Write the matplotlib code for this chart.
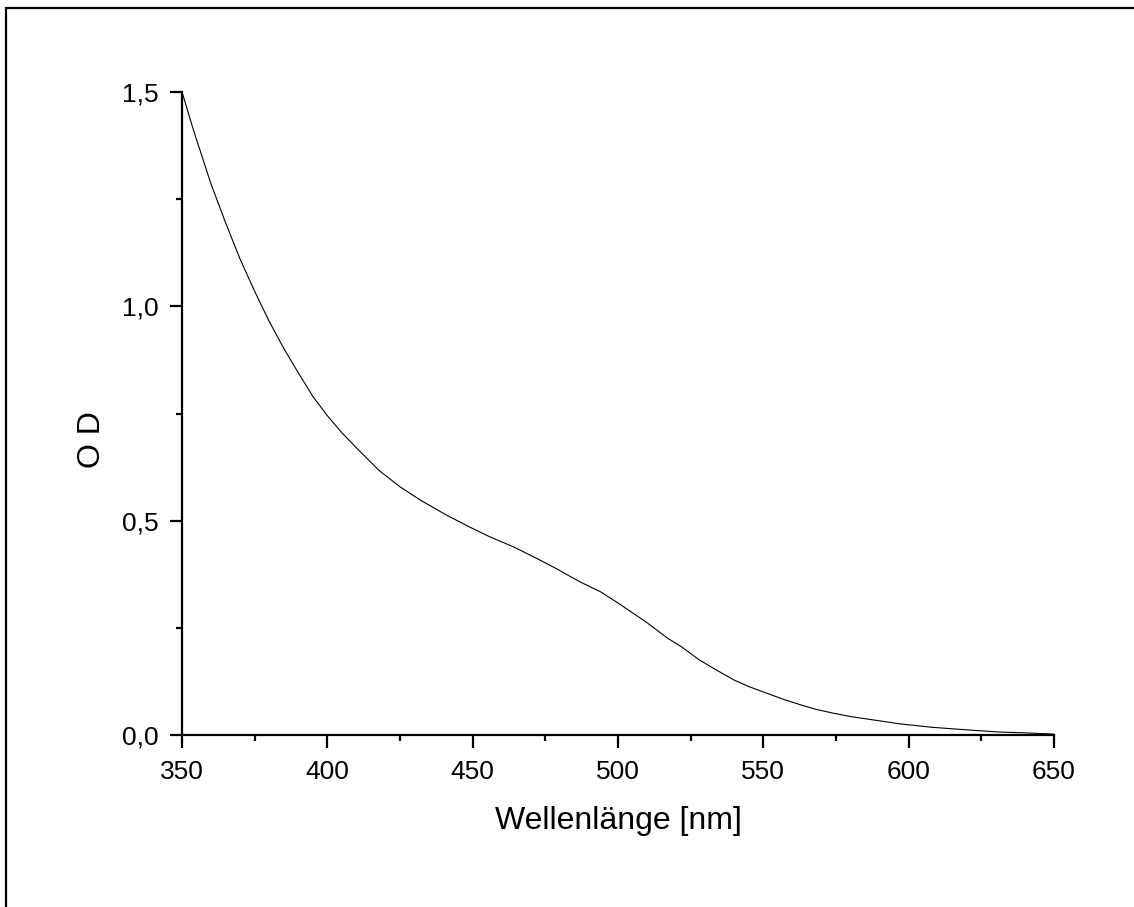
import matplotlib.pyplot as plt
from matplotlib.patches import Rectangle
from matplotlib.ticker import MultipleLocator, FuncFormatter

plt.rcParams["font.family"] = ["Liberation Sans", "DejaVu Sans"]

# absorption spectrum
wavelength = [350, 354, 360, 365, 370, 375, 380, 385, 390, 395, 400, 405, 410,
              418, 425, 432, 441, 449, 456, 464, 472, 478, 487, 494, 500, 505,
              510, 517, 522, 528, 534, 540, 545, 551, 557, 563, 568, 574, 580,
              586, 597, 608, 620, 631, 640, 650]
od = [1.50, 1.41, 1.285, 1.195, 1.11, 1.035, 0.965, 0.902, 0.845, 0.790, 0.745,
      0.705, 0.670, 0.616, 0.579, 0.548, 0.513, 0.485, 0.462, 0.439, 0.412,
      0.391, 0.357, 0.334, 0.308, 0.285, 0.262, 0.226, 0.205, 0.175, 0.151,
      0.128, 0.113, 0.098, 0.083, 0.070, 0.060, 0.051, 0.043, 0.037, 0.026,
      0.018, 0.012, 0.007, 0.005, 0.002]

W, H = 1134, 907
fig = plt.figure(figsize=(W / 100, H / 100), dpi=100)

# frame around the page (cut off at right and bottom)
fig.patches.append(Rectangle((6 / W, -0.1), 1.2, 1 - 8 / H + 0.1,
                             transform=fig.transFigure, fill=False,
                             edgecolor="black", linewidth=1.6))

ax = fig.add_axes([182 / W, 1 - 735 / H, (1054 - 182) / W, (735 - 92) / H])
ax.plot(wavelength, od, color="black", linewidth=0.8)

ax.set_xlim(350, 650)
ax.set_ylim(0, 1.5)
ax.spines["top"].set_visible(False)
ax.spines["right"].set_visible(False)
for s in ("left", "bottom"):
    ax.spines[s].set_linewidth(1.6)

ax.xaxis.set_major_locator(MultipleLocator(50))
ax.xaxis.set_minor_locator(MultipleLocator(25))
ax.yaxis.set_major_locator(MultipleLocator(0.5))
ax.yaxis.set_minor_locator(MultipleLocator(0.25))
ax.yaxis.set_major_formatter(FuncFormatter(lambda v, p: f"{v:.1f}".replace(".", ",")))

ax.tick_params(which="major", direction="out", length=9, width=1.6,
               labelsize=19, pad=8)
ax.tick_params(axis="x", which="major", pad=9)
ax.tick_params(which="minor", direction="out", length=4.5, width=1.6)

ax.set_xlabel("Wellenlänge [nm]", fontsize=23, labelpad=16)
ax.set_ylabel("O D", fontsize=23)
ax.yaxis.set_label_coords(-0.086, 0.46)

fig.savefig("out.png", dpi=100)
